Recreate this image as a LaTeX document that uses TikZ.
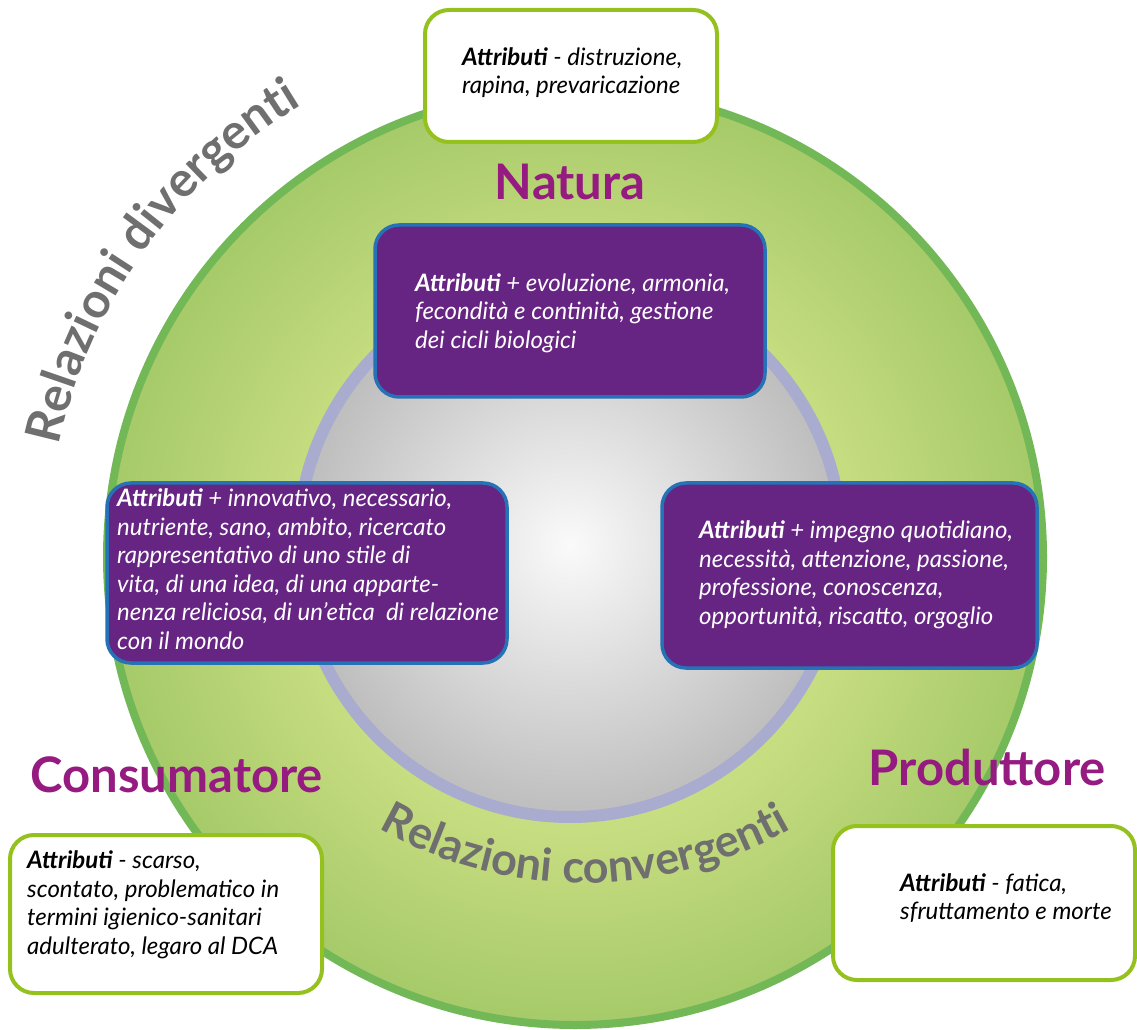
\documentclass[tikz,border=0pt]{standalone}
\usepackage{fontspec}
\setmainfont{Lato}
\usetikzlibrary{shapes, positioning, decorations.text, backgrounds}

\definecolor{ringgreen}{HTML}{72B857}
\definecolor{greenlight}{HTML}{C9DE82}
\definecolor{greendark}{HTML}{A6CA69}
\definecolor{lavender}{HTML}{A9ABCF}
\definecolor{grayedge}{HTML}{BDBDBD}
\definecolor{boxpurple}{HTML}{662483}
\definecolor{boxblue}{HTML}{2672B6}
\definecolor{boxgreen}{HTML}{95C11F}
\definecolor{titlepurple}{HTML}{951B81}
\definecolor{relgray}{HTML}{6F6F6F}

\pgfdeclareradialshading{greenring}{\pgfpoint{0bp}{0bp}}{color(0bp)=(greenlight); color(14bp)=(greenlight); color(25bp)=(greendark); color(50bp)=(greendark)}

\tikzset{
  purplebox/.style={draw=boxblue, line width=3.5pt, fill=boxpurple, rounded corners=24pt, inner sep=0pt},
  whitebox/.style={draw=boxgreen, line width=4pt, fill=white, rounded corners=24pt, inner sep=0pt},
  attrtext/.style={align=left, inner sep=0pt, font=\fontsize{24}{28.5}\selectfont\itshape},
  title/.style={text=titlepurple, font=\fontsize{49}{49}\selectfont\bfseries}
}
\newcommand{\attr}{\textbf{Attributi}}

\begin{document}
\begin{tikzpicture}[x=1pt,y=1pt]
\useasboundingbox (0,0) rectangle (1137,1029);
\coordinate (c) at (575,472);
\coordinate (g) at (570,484);

% cerchi
\shade[shading=greenring] (c) circle [radius=468];
\draw[ringgreen, line width=8pt] (c) circle [radius=468];
\shade[inner color=white!96!gray, outer color=grayedge] (g) circle [radius=272];
\draw[lavender, line width=12pt] (g) circle [radius=272];

% riquadri
\node[whitebox, minimum width=292pt, minimum height=132pt] (destroybox) at (571,953) {};
\node[purplebox, minimum width=390pt, minimum height=172pt] (naturabox) at (570,718) {};
\node[purplebox, minimum width=400pt, minimum height=180pt] (consbox) at (307,456) {};
\node[purplebox, minimum width=375pt, minimum height=185pt] (prodbox) at (849.5,453.5) {};
\node[whitebox, minimum width=312pt, minimum height=158pt] (scarsobox) at (166,115) {};
\node[whitebox, minimum width=302pt, minimum height=154pt] (faticabox) at (984,126) {};

\node[attrtext, anchor=west] (destroytext) at (462,956.5) {\attr\ - distruzione,\\rapina, prevaricazione};
\node[attrtext, text=white, anchor=west] (naturatext) at (415,716) {\attr\ + evoluzione, armonia,\\fecondità e continità, gestione\\dei cicli biologici};
\node[attrtext, text=white, anchor=west] (constext) at (117,460) {\attr\ + innovativo, necessario,\\nutriente, sano, ambito, ricercato\\rappresentativo di uno stile di\\vita, di una idea, di una apparte-\\nenza reliciosa, di un’etica\ \ di relazione\\con il mondo};
\node[attrtext, text=white, anchor=west] (prodtext) at (699,454) {\attr\ + impegno quotidiano,\\necessità, attenzione, passione,\\professione, conoscenza,\\opportunità, riscatto, orgoglio};
\node[attrtext, anchor=west] (scarsotext) at (27,124) {\attr\ - scarso,\\scontato, problematico in\\termini igienico-sanitari\\adulterato, legaro al DCA};
\node[attrtext, anchor=west] (faticatext) at (900,131) {\attr\ - fatica,\\sfruttamento e morte};

% titoli
\node[title, anchor=base] (natura) at (570,829) {Natura};
\node[title, anchor=base west] (consumatore) at (27,237) {Consumatore};
\node[title, anchor=base west] (produttore) at (865,244) {Produttore};

% relazioni
\path[decorate, decoration={text along path, text align=center, text color=relgray,
  text={|\fontsize{49}{49}\selectfont\bfseries|Relazioni divergenti}}]
  (c) ++(183.5:528) arc[start angle=183.5, end angle=105.5, radius=528];
\path[decorate, decoration={text along path, text align=center, text color=relgray,
  text={|\fontsize{45}{45}\selectfont\bfseries|Relazioni convergenti}}]
  (585,564) ++(226:418) arc[start angle=226, end angle=314, radius=418];
\end{tikzpicture}
\end{document}
